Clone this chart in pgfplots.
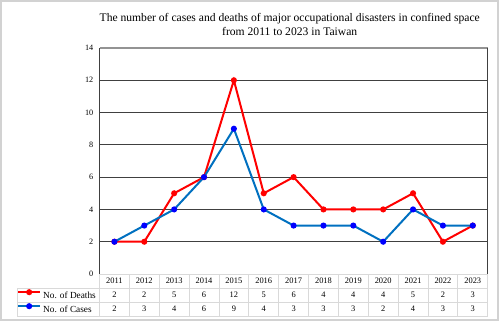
\documentclass[border=0pt]{standalone}
\usepackage{pgfplots}
\pgfplotsset{compat=1.18}
\usepackage{fontspec}
\setmainfont{Liberation Serif}
\definecolor{deathred}{HTML}{FF0000}
\definecolor{caseline}{HTML}{0070C0}
\definecolor{casemark}{HTML}{0000FF}
\definecolor{tablegray}{HTML}{D9D9D9}
\begin{document}
\begin{tikzpicture}[x=1pt,y=1pt]
\path[use as bounding box] (0,0) rectangle (500,323);
\draw[gray!35, line width=1.5pt] (1,3) rectangle (498,322);
\begin{axis}[
  at={(99.5pt,49pt)}, anchor=south west,
  scale only axis, width=388.2pt, height=226pt,
  xmin=-0.5, xmax=12.5, ymin=0, ymax=14,
  xtick={0,...,12},
  xticklabels={{2011\\2\\2},{2012\\2\\3},{2013\\5\\4},{2014\\6\\6},{2015\\12\\9},{2016\\5\\4},{2017\\6\\3},{2018\\4\\3},{2019\\4\\3},{2020\\4\\2},{2021\\5\\4},{2022\\2\\3},{2023\\3\\3}},
  ytick={0,2,...,14},
  major tick length=0pt,
  axis line style={draw=none},
  ymajorgrids, grid style={black!75, line width=0.9pt},
  /pgf/number format/assume math mode=true,
  xticklabel style={align=center, anchor=north, inner sep=0pt, yshift=-4.1pt, font=\fontsize{8.4}{14}\selectfont},
  yticklabel style={anchor=east, inner sep=0pt, xshift=-6pt, font=\fontsize{8.2}{10}\selectfont},
  title={The number of cases and deaths of major occupational disasters in confined space\\from 2011 to 2023 in Taiwan},
  title style={align=center, at={(0.49,1)}, anchor=south, inner sep=0pt, yshift=6pt, font=\fontsize{11.6}{14}\selectfont},
  legend style={at={(-0.2126,-0.0619)}, anchor=north west, draw=none, fill=none, inner sep=0pt, row sep=0pt, column sep=2pt, font=\fontsize{9.3}{10}\selectfont, nodes={inner sep=0pt, text height=10pt, text depth=4pt}},
  legend cell align=left,
  legend image code/.code={\draw[mark repeat=2,mark phase=2,#1] plot coordinates {(0pt,3pt) (11pt,3pt) (22pt,3pt)};},
]
\addplot[deathred, line width=2pt, mark=*, mark size=2pt, mark options={fill=deathred, draw=deathred}]
  coordinates {(0,2)(1,2)(2,5)(3,6)(4,12)(5,5)(6,6)(7,4)(8,4)(9,4)(10,5)(11,2)(12,3)};
\addlegendentry{No. of Deaths}
\addplot[caseline, line width=2pt, mark=*, mark size=2pt, mark options={fill=casemark, draw=casemark}]
  coordinates {(0,2)(1,3)(2,4)(3,6)(4,9)(5,4)(6,3)(7,3)(8,3)(9,2)(10,4)(11,3)(12,3)};
\addlegendentry{No. of Cases}
\end{axis}
% data table grid
\begin{scope}[tablegray, line width=0.8pt]
\draw (99.5,49) -- (487.7,49);
\draw (17,35) -- (487.7,35);
\draw (17,21) -- (487.7,21);
\draw (17,7) -- (487.7,7);
\draw (17,7) -- (17,35);
\foreach \i in {0,...,13} {\draw ({99.5+\i*388.2/13},7) -- ({99.5+\i*388.2/13},49);}
\end{scope}
% axis frame
\draw[black!75, line width=1.1pt] (99.5,49) -- (99.5,275);
\draw[gray!85, line width=1.5pt] (99.5,275) -- (487.7,275);
\draw[black!75, line width=1.1pt] (487.7,49) -- (487.7,275);
\end{tikzpicture}
\end{document}
